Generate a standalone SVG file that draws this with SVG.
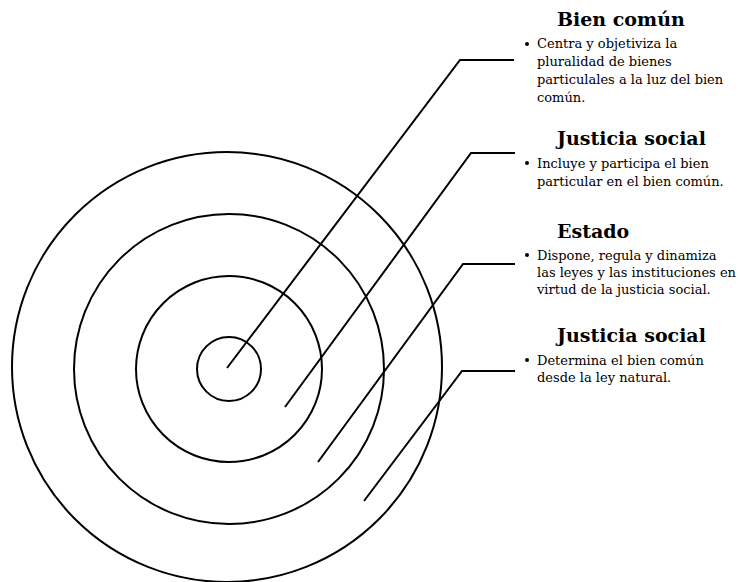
<svg xmlns="http://www.w3.org/2000/svg" width="740" height="582" viewBox="0 0 740 582">
<style>
.ring{fill:none;stroke:#000;stroke-width:2}
.conn{fill:none;stroke:#000;stroke-width:2;stroke-linejoin:miter}
.title{font-family:"DejaVu Serif","Liberation Serif",serif;font-weight:bold;font-size:19px;fill:#000}
.body{font-family:"DejaVu Serif","Liberation Serif",serif;font-size:13px;fill:#000}
.dot{fill:#000}
</style>
<rect width="740" height="582" fill="#fff"/>
<g id="ring-outer"><circle class="ring" cx="227" cy="367" r="215"/></g>
<g id="ring-3"><circle class="ring" cx="229" cy="369" r="155"/></g>
<g id="ring-2"><circle class="ring" cx="229" cy="369" r="93"/></g>
<g id="ring-inner"><circle class="ring" cx="229" cy="369" r="32"/></g>
<g id="connectors">
<polyline class="conn" points="227,368 460,60 514,60"/>
<polyline class="conn" points="285,407 471,153 515,153"/>
<polyline class="conn" points="318,462 463,264 515,264"/>
<polyline class="conn" points="364,501 462,371 515,371"/>
</g>
<g id="label-bien-comun">
<text class="title" x="557" y="26">Bien común</text>
<circle class="dot" cx="527" cy="44" r="2"/>
<text class="body" x="537" y="48">Centra y objetiviza la</text>
<text class="body" x="537" y="66">pluralidad de bienes</text>
<text class="body" x="537" y="84">particulales a la luz del bien</text>
<text class="body" x="537" y="102">común.</text>
</g>
<g id="label-justicia-1">
<text class="title" x="557" y="145">Justicia social</text>
<circle class="dot" cx="527" cy="163" r="2"/>
<text class="body" x="537" y="168">Incluye y participa el bien</text>
<text class="body" x="537" y="186">particular en el bien común.</text>
</g>
<g id="label-estado">
<text class="title" x="557" y="238">Estado</text>
<circle class="dot" cx="527" cy="255" r="2"/>
<text class="body" x="537" y="260">Dispone, regula y dinamiza</text>
<text class="body" x="537" y="277">las leyes y las instituciones en</text>
<text class="body" x="537" y="294">virtud de la justicia social.</text>
</g>
<g id="label-justicia-2">
<text class="title" x="557" y="342">Justicia social</text>
<circle class="dot" cx="527" cy="360" r="2"/>
<text class="body" x="537" y="365">Determina el bien común</text>
<text class="body" x="537" y="382">desde la ley natural.</text>
</g>
</svg>
